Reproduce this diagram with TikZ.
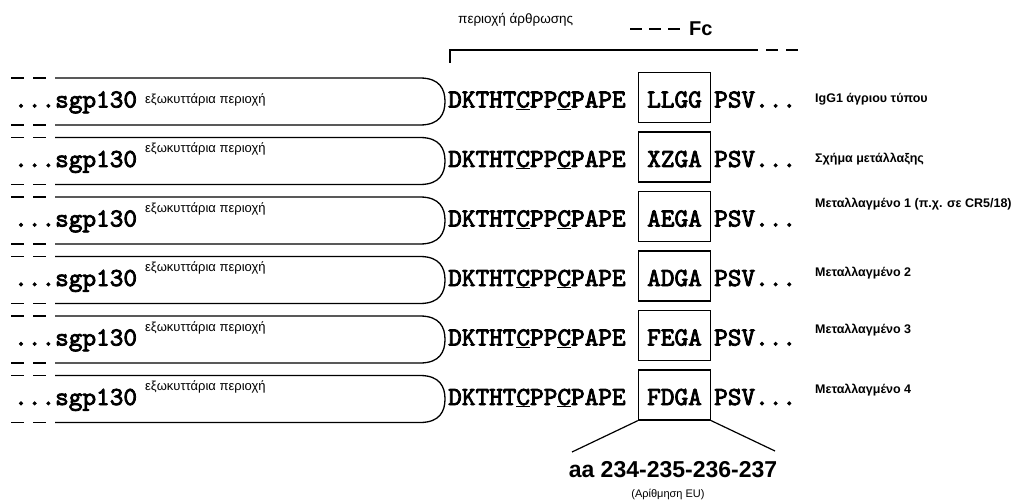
\documentclass[tikz,border=0pt]{standalone}
\usepackage{fontspec}
\setmainfont{Liberation Sans}
\newfontfamily\seqfont[Extension=.otf,FakeBold=3]{lmmono10-regular}
\usetikzlibrary{positioning,calc}
\tikzset{
  seq/.style={font=\seqfont\fontsize{26}{26}\selectfont,inner sep=0pt,anchor=base west},
  lab/.style={font=\fontsize{13}{13}\selectfont,inner sep=0pt,anchor=west},
  rlab/.style={font=\bfseries\fontsize{12.5}{12.5}\selectfont,inner sep=0pt,anchor=west},
  sitebox/.style={draw,line width=1.2pt,minimum width=72pt,minimum height=50pt,inner sep=0pt},
  rowline/.style={line width=1.3pt},
  enddash/.style={rowline,dash pattern=on 13pt off 9pt},
}
\begin{document}
\begin{tikzpicture}[x=1pt,y=-1pt]
\useasboundingbox (0,0) rectangle (1015,500);

% rows: mutation, label, label lift
\foreach \mut/\name/\ry [count=\i] in {
  LLGG/{IgG1 άγριου τύπου}/2,
  XZGA/{Σχήμα μετάλλαξης}/2,
  AEGA/{Μεταλλαγμένο 1 (π.χ. σε CR5/18)}/16,
  ADGA/{Μεταλλαγμένο 2}/7,
  FEGA/{Μεταλλαγμένο 3}/9,
  FDGA/{Μεταλλαγμένο 4}/9}{
  \pgfmathsetmacro\my{101.5+59.5*(\i-1)}
  \pgfmathsetmacro\ly{\i==1 ? 1.5 : 12}
  \draw[rowline] (55,\my-23.5) -- (420,\my-23.5)
    .. controls (440,\my-23.5) and (445,\my-12) .. (445,\my)
    .. controls (445,\my+12) and (440,\my+23.5) .. (420,\my+23.5) -- (55,\my+23.5);
  \draw[enddash] (11,\my-23.5) -- (47,\my-23.5);
  \draw[enddash] (11,\my+23.5) -- (47,\my+23.5);
  \node[seq] (sgp\i) at (14,\my+6) {...sgp130};
  \node[lab] (ext\i) at (145,\my-\ly) {εξωκυττάρια περιοχή};
  \node[seq] (hinge\i) at (448,\my+6) {DKTHT\underline{C}PP\underline{C}PAPE};
  \node[sitebox] (site\i) at (674.5,\my-4) {};
  \node[seq,anchor=base] (mut\i) at (674.5,\my+6) {\mut};
  \node[seq] (psv\i) at (714,\my+6) {PSV...};
  \node[rlab] (name\i) at (815,\my-\ry) {\name};
}

% hinge region and Fc bracket
\node[font=\fontsize{13.5}{13.5}\selectfont,inner sep=0pt,anchor=west] (hinge) at (458,20) {περιοχή άρθρωσης};
\node[font=\bfseries\fontsize{20}{20}\selectfont,inner sep=0pt,anchor=west] (fc) at (689,29) {Fc};
\draw[line width=2.2pt,dash pattern=on 12pt off 7pt] ($(fc.west)+(-59,0)$) -- ($(fc.west)+(-8,0)$);
\coordinate (brk) at (450,63);
\draw[rowline] (brk) -- (450,50) -- (758,50);
\draw[rowline,dash pattern=on 12pt off 8pt] (766,50) -- (798,50);

% EU numbering
\node[font=\bfseries\fontsize{23}{23}\selectfont,inner sep=0pt] (aa) at (673,470) {aa 234-235-236-237};
\node[font=\fontsize{11}{11}\selectfont,inner sep=0pt] (eu) at (668,494) {(Αρίθμηση EU)};
\coordinate (aal) at (572,452);
\coordinate (aar) at (775,451);
\draw[line width=1.2pt] (site6.south west) -- (aal);
\draw[line width=1.2pt] (site6.south east) -- (aar);
\end{tikzpicture}
\end{document}
